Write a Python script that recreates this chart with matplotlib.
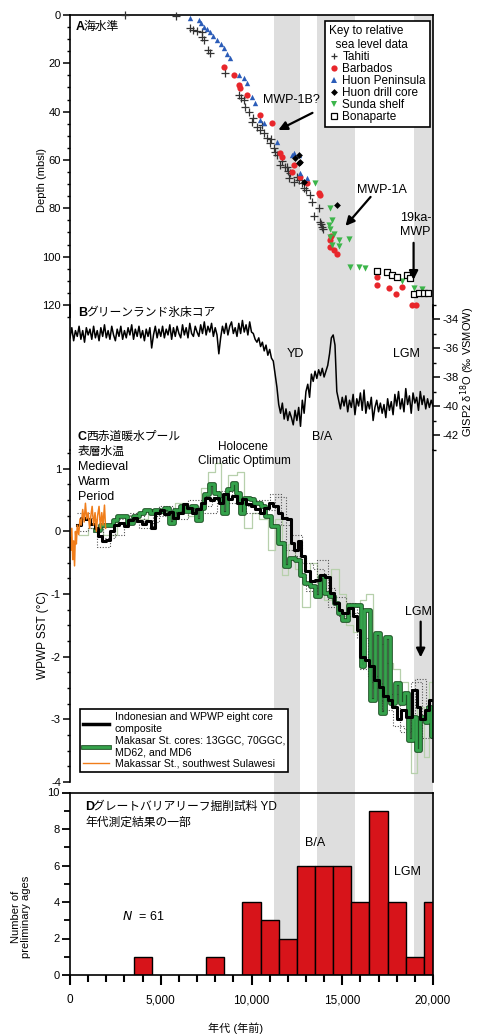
import numpy as np
import matplotlib
matplotlib.use('Agg')
import matplotlib.pyplot as plt
from matplotlib.lines import Line2D
from matplotlib.ticker import MultipleLocator, FuncFormatter
import matplotlib.patheffects as pe

plt.rcParams['font.family'] = ['Liberation Sans', 'Noto Sans CJK JP', 'DejaVu Sans']
plt.rcParams['axes.unicode_minus'] = False

# ---------------- DATA ----------------
# Shaded periods (ka): YD, B/A, LGM
band_start = [11.22, 13.6, 18.95]
band_end = [12.69, 15.7, 20.0]

# Panel A: relative sea level (age ka, depth m)
tahiti_age = [3.04, 5.85, 6.62, 6.80, 6.99, 7.27, 7.27, 7.36, 7.63, 7.73, 8.55, 9.29, 9.40, 9.57, 9.66,
              9.84, 10.03, 10.10, 10.30, 10.49, 10.60, 10.67, 10.85, 11.04, 11.10, 11.22, 11.30, 11.40,
              11.59, 11.70, 11.87, 11.96, 12.00, 12.05, 12.14, 12.32, 12.51, 12.60, 12.79, 12.88, 13.00,
              13.25, 13.34, 13.43, 13.70, 13.80, 13.85, 13.89, 13.94]
tahiti_depth = [0.0, 0.4, 5.5, 6.2, 6.5, 6.9, 9.0, 10.3, 14.5, 15.9, 24.1, 33.1, 34.5, 35.2, 37.9,
                40.0, 44.1, 42.5, 46.2, 47.6, 45.5, 49.0, 51.0, 53.1, 51.5, 55.2, 56.5, 57.9,
                62.1, 60.5, 62.8, 62.8, 64.5, 67.6, 65.5, 69.0, 66.9, 68.5, 69.6, 71.7, 72.5,
                74.5, 77.2, 83.4, 80.0, 85.5, 86.5, 87.6, 88.5]
barbados_age = [8.46, 9.01, 9.29, 9.38, 9.75, 10.49, 11.13, 11.59, 11.68, 12.23, 12.32, 12.69, 13.06,
                13.70, 13.80, 14.31, 14.35, 14.40, 14.53, 14.72, 16.93, 16.93, 17.57, 17.94, 18.30,
                18.86, 19.04]
barbados_depth = [21.4, 24.8, 29.0, 30.3, 33.1, 41.4, 44.8, 57.2, 58.6, 64.8, 62.1, 66.9, 69.6,
                  73.8, 74.5, 93.1, 95.9, 91.5, 97.2, 99.0, 108.3, 111.7, 113.1, 115.4, 112.4,
                  120.0, 120.0]
huon_age = [6.62, 7.08, 7.20, 7.36, 7.55, 7.73, 7.90, 8.09, 8.30, 8.46, 8.65, 8.83, 9.29, 9.57, 9.75,
            10.03, 10.21, 10.49, 10.67, 11.40, 12.23, 12.32, 12.60, 12.69, 13.06]
huon_depth = [1.1, 2.1, 3.5, 4.8, 6.0, 6.9, 8.5, 10.3, 12.0, 13.8, 16.0, 17.9, 24.8, 26.2, 28.3,
              33.8, 36.5, 43.4, 44.8, 52.4, 57.9, 57.2, 57.9, 65.5, 67.6]
huondrill_age = [12.42, 12.60, 12.69, 12.60, 12.88, 14.72]
huondrill_depth = [59.3, 57.9, 60.7, 61.4, 69.0, 78.6]
sunda_age = [13.52, 14.35, 14.44, 14.26, 14.30, 14.55, 14.35, 14.81, 15.36, 14.44, 14.81, 15.45, 15.91,
             16.28, 18.30, 18.95, 19.41]
sunda_depth = [69.6, 80.0, 84.8, 86.9, 88.5, 90.5, 91.7, 93.1, 92.8, 95.2, 95.6, 104.4, 104.4,
               104.8, 110.3, 113.1, 113.4]
bonaparte_age = [16.93, 17.48, 17.75, 17.99, 18.58, 18.76, 18.95, 19.22, 19.50, 19.72]
bonaparte_depth = [105.9, 106.2, 107.6, 108.5, 107.6, 108.9, 115.4, 115.2, 115.2, 115.2]

# Panel B: GISP2 d18O, 100-yr samples from 0 to 20 ka
gisp_age = np.arange(0, 20.001, 0.1)
gisp_d18o = [
    -35.3, -34.6, -35.5, -34.8, -35.2, -34.5, -35.4, -34.8, -35.6, -34.6, -35.1,
    -34.7, -35.4, -34.5, -35.3, -34.8, -35.5, -34.6, -35.2, -34.4, -35.3,
    -34.8, -35.4, -34.5, -35.1, -35.5, -34.7, -35.2, -34.5, -35.4, -34.8,
    -35.3, -34.6, -35.1, -34.4, -35.4, -34.7, -35.2, -34.5, -35.3, -34.8,
    -35.5, -34.7, -35.2, -34.6, -36.0, -35.1, -34.5, -35.3, -34.7, -35.2,
    -34.5, -35.3, -34.7, -35.1, -34.4, -35.4, -34.6, -35.2, -34.5, -35.0,
    -35.3, -34.4, -35.1, -34.6, -35.3, -34.3, -35.0, -35.2, -34.5, -34.9,
    -35.2, -34.4, -35.0, -34.2, -35.1, -34.5, -34.9, -34.3, -35.2, -34.6,
    -35.1, -36.4, -35.3, -34.5, -35.0, -34.3, -35.1, -34.5, -34.2, -35.0,
    -34.6, -35.2, -34.3, -35.0, -34.1, -34.9, -34.4, -35.1, -34.2, -34.9,
    -35.0, -35.4, -35.6, -35.3, -35.9, -35.6, -36.2, -35.8, -36.5, -36.1,
    -36.7, -36.9, -37.8, -38.7, -39.9, -40.5, -39.8, -40.9, -40.2, -41.0,
    -40.4, -40.8, -41.3, -40.3, -41.0, -40.1, -41.4, -39.6, -40.5, -39.0,
    -38.5, -39.4, -37.8, -38.3, -37.6, -38.1, -37.5, -37.9, -37.4, -38.0,
    -37.6, -37.2, -36.4, -35.3, -35.1, -35.8, -39.0, -39.6, -40.2, -39.4,
    -40.0, -39.3, -40.4, -39.6, -40.1, -39.2, -40.6, -39.5, -40.0, -39.1,
    -40.3, -38.9, -40.5, -39.7, -40.2, -39.4, -41.0, -40.1, -39.6, -40.4,
    -39.8, -40.5, -39.9, -40.8, -39.5, -40.3, -39.7, -40.6, -39.2, -40.0,
    -39.0, -40.2, -39.5, -40.4, -38.8, -39.9, -39.3, -40.5, -39.1, -39.8,
    -39.4, -40.3, -39.0, -39.9, -39.3, -40.2, -39.5, -40.1, -39.6, -40.0]

# Panel C: WPWP SST anomalies, step series (start ka, value degC)
comp_start = [0.40, 0.60, 0.85, 1.10, 1.35, 1.55, 1.75, 2.00, 2.20, 2.45, 2.70, 2.95, 3.20, 3.45, 3.70,
              3.95, 4.20, 4.45, 4.70, 4.95, 5.20, 5.45, 5.70, 5.95, 6.20, 6.45, 6.70, 6.95, 7.20, 7.45,
              7.70, 7.95, 8.20, 8.45, 8.70, 8.95, 9.20, 9.45, 9.70, 9.95, 10.20, 10.45, 10.70, 10.95,
              11.20, 11.45, 11.70, 11.95, 12.15, 12.35, 12.55, 12.75, 12.95, 13.20, 13.50, 13.75,
              14.05, 14.30, 14.55, 14.80, 15.00, 15.30, 15.60, 15.80, 16.00, 16.25, 16.50, 16.75,
              17.00, 17.25, 17.50, 17.75, 18.00, 18.25, 18.50, 18.85, 19.10, 19.30, 19.55, 19.80]
comp_sst = [0.10, 0.22, 0.20, 0.12, 0.05, -0.07, -0.15, -0.13, 0.00, 0.11, 0.14, 0.08, 0.19, 0.22, 0.16,
            0.12, 0.17, 0.06, 0.30, 0.35, 0.28, 0.31, 0.22, 0.30, 0.43, 0.38, 0.30, 0.36, 0.45, 0.54,
            0.50, 0.54, 0.46, 0.59, 0.51, 0.56, 0.46, 0.51, 0.44, 0.40, 0.36, 0.30, 0.38, 0.46,
            0.40, 0.30, 0.22, 0.20, -0.18, -0.29, -0.16, -0.39, -0.63, -0.79, -0.78, -0.69,
            -0.72, -0.98, -1.14, -1.25, -1.30, -1.22, -1.35, -1.57, -2.00, -2.05, -2.15, -2.37,
            -2.48, -2.63, -2.69, -2.80, -3.00, -2.85, -2.96, -2.53, -2.80, -3.00, -2.85, -2.69]
mak_start = [1.35, 1.65, 2.00, 2.35, 2.60, 2.90, 3.15, 3.45, 3.80, 4.10, 4.40, 4.65, 4.95, 5.20, 5.45,
             5.75, 6.05, 6.35, 6.65, 6.95, 7.20, 7.40, 7.65, 7.95, 8.20, 8.40, 8.65, 8.95, 9.15, 9.35,
             9.60, 9.90, 10.15, 10.50, 10.75, 11.05, 11.45, 11.80, 12.05, 12.40, 12.65, 12.90, 13.25,
             13.50, 13.80, 14.00, 14.25, 14.55, 14.75, 15.00, 15.30, 16.05, 16.20, 16.55, 16.80,
             17.10, 17.35, 17.65, 17.90, 18.20, 18.40, 18.65, 18.90, 19.05, 19.30, 19.55, 19.70, 19.90]
mak_sst = [0.03, 0.11, 0.10, 0.19, 0.24, 0.25, 0.14, 0.24, 0.30, 0.35, 0.30, 0.35, 0.33, 0.38, 0.14,
           0.35, 0.41, 0.33, 0.41, 0.19, 0.37, 0.59, 0.75, 0.62, 0.51, 0.30, 0.67, 0.77, 0.62, 0.30,
           0.54, 0.51, 0.45, 0.40, 0.24, 0.08, -0.18, -0.55, -0.42, -0.45, -0.69, -0.82, -0.87,
           -1.03, -0.71, -0.98, -1.03, -1.14, -1.30, -1.41, -1.17, -2.15, -1.25, -2.69, -1.62,
           -2.90, -1.68, -2.74, -2.42, -2.74, -2.58, -3.33, -2.96, -3.49, -2.96, -3.05, -2.80, -3.27]
core_start = [0.5, 1.0, 1.8, 2.6, 3.5, 4.3, 5.0, 5.8, 6.5, 7.2, 7.6, 8.0, 8.3, 8.7, 9.2, 9.6, 10.0,
              10.4, 10.9, 11.3, 11.7, 12.0, 12.4, 12.8, 13.2, 13.6, 14.0, 14.4, 14.8, 15.2, 15.6,
              16.0, 16.3, 16.7, 17.0, 17.4, 17.8, 18.2, 18.6, 18.8, 19.1, 19.5, 19.8]
core_sst = [-0.05, 0.05, -0.05, 0.25, 0.20, 0.35, 0.30, 0.45, 0.25, 0.70, 0.95, 1.10, 0.60, 0.90, 0.95,
            0.05, 0.30, 0.20, -0.30, 0.20, -0.70, -0.20, -0.60, -1.20, -0.50, -0.90, -1.10, -0.60,
            -1.00, -1.50, -1.60, -1.10, -1.00, -2.50, -1.80, -2.10, -2.20, -2.40, -3.00, -3.85,
            -2.80, -3.60, -2.40]
dot1_start = [0.4, 1.0, 1.5, 2.2, 3.0, 3.8, 4.6, 5.4, 6.2, 7.0, 7.8, 8.6, 9.4, 10.2, 11.0, 11.6, 12.2,
              12.8, 13.4, 14.0, 14.6, 15.2, 15.8, 16.4, 17.0, 17.6, 18.2, 18.8, 19.4]
dot1_sst = [0.0, 0.05, -0.25, -0.05, 0.15, 0.05, 0.25, 0.30, 0.35, 0.40, 0.55, 0.45, 0.40, 0.50, 0.60,
            0.10, -0.05, -0.50, -0.60, -0.90, -1.05, -1.15, -1.70, -2.30, -2.70, -2.60, -3.20, -2.40,
            -3.30]
dot2_start = [0.4, 1.2, 1.8, 2.5, 3.3, 4.1, 4.9, 5.7, 6.5, 7.3, 8.1, 8.9, 9.7, 10.5, 11.3, 11.9, 12.4,
              13.0, 13.6, 14.2, 14.8, 15.4, 16.0, 16.6, 17.2, 17.8, 18.4, 19.0, 19.6]
dot2_sst = [0.30, 0.20, -0.10, 0.20, 0.30, 0.15, 0.40, 0.20, 0.50, 0.30, 0.65, 0.55, 0.30, 0.35, 0.55,
            -0.30, -0.40, -0.95, -0.45, -1.20, -1.35, -1.30, -2.20, -2.40, -2.85, -3.10, -3.15,
            -2.35, -2.90]
sula_age = [0.00, 0.05, 0.10, 0.15, 0.20, 0.25, 0.30, 0.35, 0.40, 0.48, 0.55, 0.62, 0.70, 0.78, 0.85,
            0.92, 1.00, 1.08, 1.15, 1.22, 1.30, 1.38, 1.45, 1.52, 1.60, 1.68, 1.75, 1.82, 1.90, 1.96]
sula_sst = [-0.10, -0.30, 0.05, -0.45, -0.15, -0.55, 0.00, -0.20, 0.10, -0.05, 0.20, 0.10, 0.35, 0.15,
            0.45, 0.20, 0.30, 0.05, 0.25, 0.40, 0.10, 0.30, 0.00, 0.25, 0.40, 0.05, 0.30, 0.10, 0.42,
            0.05]

# Panel D: Great Barrier Reef preliminary ages histogram (bin centre ka, count)
gbr_age = [4, 8, 10, 11, 12, 13, 14, 15, 16, 17, 18, 19, 20]
gbr_count = [1, 1, 4, 3, 2, 6, 6, 6, 4, 9, 4, 1, 4]

# ---------------- FIGURE ----------------
W, H = 479, 1034
fig = plt.figure(figsize=(W / 100, H / 100), dpi=100)
XL, XR = 70, 433


def box(px0, py0, px1, py1):
    return [px0 / W, 1 - py1 / H, (px1 - px0) / W, (py1 - py0) / H]


def ftext(px, py, s, **kw):
    kw.setdefault('ha', 'left')
    kw.setdefault('va', 'center')
    return fig.text(px / W, 1 - py / H, s, **kw)


def steps(start, vals, end=20.0):
    x = np.array(list(start) + [end]) * 1000
    y = np.array(list(vals) + [vals[-1]])
    return x, y


SPW = 1.2

# background bands
axbg = fig.add_axes(box(XL, 15, XR, 975), zorder=0)
axbg.set_xlim(0, 20000)
axbg.set_ylim(0, 1)
axbg.axis('off')
for a0, a1 in zip(band_start, band_end):
    axbg.axvspan(a0 * 1000, a1 * 1000, color='#dedede', lw=0)


def style(ax):
    ax.set_facecolor('none')
    ax.set_xlim(0, 20000)
    for s in ax.spines.values():
        s.set_linewidth(SPW)
    ax.tick_params(which='major', direction='out', length=5, width=1.1, labelsize=8, pad=1.5)
    ax.tick_params(which='minor', direction='out', length=2.5, width=1.0)


# ---- Panel A
axA = fig.add_axes(box(XL, 15, XR, 317), zorder=2)
style(axA)
axA.set_ylim(125, 0)
axA.spines['bottom'].set_visible(False)
axA.set_xticks([])
axA.yaxis.set_major_locator(MultipleLocator(20))
axA.yaxis.set_minor_locator(MultipleLocator(5))
kwm = dict(clip_on=False, zorder=3)
axA.scatter(np.array(tahiti_age) * 1000, tahiti_depth, marker='+', s=26, c='#333333', lw=0.9, **kwm)
axA.scatter(np.array(barbados_age) * 1000, barbados_depth, marker='o', s=20, c='#e8262b', lw=0, **kwm)
axA.scatter(np.array(huon_age) * 1000, huon_depth, marker='^', s=15, c='#2b5cb8', lw=0, **kwm)
axA.scatter(np.array(huondrill_age) * 1000, huondrill_depth, marker='D', s=12, c='black', lw=0, **kwm)
axA.scatter(np.array(sunda_age) * 1000, sunda_depth, marker='v', s=20, c='#3cb54a', lw=0, **kwm)
axA.scatter(np.array(bonaparte_age) * 1000, bonaparte_depth, marker='s', s=20, facecolors='white',
            edgecolors='black', lw=0.9, **kwm)

hA = [Line2D([], [], ls='', marker='+', color='#333333', ms=5, mew=0.9),
      Line2D([], [], ls='', marker='o', color='#e8262b', ms=4.5, mew=0),
      Line2D([], [], ls='', marker='^', color='#2b5cb8', ms=4, mew=0),
      Line2D([], [], ls='', marker='D', color='black', ms=3.5, mew=0),
      Line2D([], [], ls='', marker='v', color='#3cb54a', ms=4.5, mew=0),
      Line2D([], [], ls='', marker='s', mfc='white', mec='black', ms=4.5, mew=0.9)]
lA = axA.legend(hA, ['Tahiti', 'Barbados', 'Huon Peninsula', 'Huon drill core', 'Sunda shelf', 'Bonaparte'],
                title='Key to relative\n  sea level data', loc='upper right',
                bbox_to_anchor=((430 - XL) / (XR - XL), 1 - 6 / 302), borderaxespad=0, fontsize=8.5,
                title_fontsize=8.5, frameon=True, fancybox=False, edgecolor='black', framealpha=1,
                handlelength=0.7, handletextpad=0.4, labelspacing=0.0, borderpad=0.35,
                alignment='left')
lA.get_frame().set_linewidth(1.2)

arr = dict(arrowstyle='-|>', color='black', lw=1.6, mutation_scale=13, shrinkA=0, shrinkB=0)
axA.text(12200, 35.2, 'MWP-1B?', ha='center', va='center', fontsize=9)
axA.annotate('', xy=(11480, 47.6), xytext=(13360, 40.5), arrowprops=arr)
axA.text(17160, 72.4, 'MWP-1A', ha='center', va='center', fontsize=9)
axA.annotate('', xy=(15180, 87.3), xytext=(16560, 75.3), arrowprops=arr)
axA.text(19040, 86.9, '19ka-\nMWP', ha='center', va='center', fontsize=9, linespacing=1.25)
axA.annotate('', xy=(18930, 109.6), xytext=(18930, 94.3), arrowprops=arr)

# ---- Panel B
axB = fig.add_axes(box(XL, 304.5, XR, 449.5), zorder=2)
style(axB)
axB.set_ylim(-43, -33)
axB.spines['top'].set_visible(False)
axB.spines['bottom'].set_visible(False)
axB.set_xticks([])
axB.yaxis.tick_right()
axB.yaxis.set_major_locator(MultipleLocator(2))
axB.yaxis.set_minor_locator(MultipleLocator(1))
axB.plot(gisp_age * 1000, gisp_d18o, color='black', lw=1.1)
axB.text(12420, -36.41, 'YD', ha='center', va='center', fontsize=9)
axB.text(13900, -42.14, 'B/A', ha='center', va='center', fontsize=9)
axB.text(18540, -36.41, 'LGM', ha='center', va='center', fontsize=9)

# ---- Panel C
axC = fig.add_axes(box(XL, 450, XR, 782), zorder=2)
style(axC)
axC.set_ylim(-4, 1.3)
axC.spines['top'].set_visible(False)
axC.spines['bottom'].set_visible(False)
axC.set_xticks([])
axC.yaxis.set_major_locator(MultipleLocator(1))
axC.yaxis.set_minor_locator(MultipleLocator(0.25))
axC.yaxis.set_major_formatter(FuncFormatter(lambda v, p: '%d' % round(v)))

x, y = steps(core_start, core_sst)
axC.step(x, y, where='post', color='#b7d0ac', lw=0.9)
x, y = steps(dot1_start, dot1_sst)
axC.step(x, y, where='post', color='#555555', lw=0.8, ls=(0, (1, 1.5)))
x, y = steps(dot2_start, dot2_sst)
axC.step(x, y, where='post', color='#555555', lw=0.8, ls=(0, (1, 1.5)))
green_pe = [pe.Stroke(linewidth=3.4, foreground='#1c5224'), pe.Normal()]
x, y = steps(mak_start, mak_sst)
axC.step(x, y, where='post', color='#35a34c', lw=2.0, path_effects=green_pe)
x, y = steps(comp_start, comp_sst)
axC.step(x, y, where='post', color='black', lw=2.2)
axC.plot(np.array(sula_age) * 1000, sula_sst, color='#f07d1a', lw=1.1)

axC.text(19200, -1.29, 'LGM', ha='center', va='center', fontsize=9)
axC.annotate('', xy=(19320, -2.01), xytext=(19320, -1.44), arrowprops=arr)

hC = [Line2D([], [], color='black', lw=2.5),
      Line2D([], [], color='#35a34c', lw=2.0, path_effects=green_pe),
      Line2D([], [], color='#f07d1a', lw=1.0)]
lC = axC.legend(hC, ['Indonesian and WPWP eight core\ncomposite',
                     'Makasar St. cores: 13GGC, 70GGC,\nMD62, and MD6',
                     'Makassar St., southwest Sulawesi'],
                loc='lower left', bbox_to_anchor=(10 / 363, 10 / 332), borderaxespad=0, fontsize=7.6,
                frameon=True, fancybox=False, edgecolor='black', framealpha=1, handlelength=2.4,
                handletextpad=0.6, labelspacing=0.15, borderpad=0.3)
lC.get_frame().set_linewidth(1.2)

# ---- Panel D
axD = fig.add_axes(box(XL, 792.5, XR, 975), zorder=2)
style(axD)
axD.set_ylim(0, 10)
axD.bar(np.array(gbr_age) * 1000, gbr_count, width=1000, color='#d7141a', edgecolor='black', lw=1.0)
axD.xaxis.set_major_locator(MultipleLocator(5000))
axD.xaxis.set_minor_locator(MultipleLocator(1000))
axD.yaxis.set_major_locator(MultipleLocator(2))
axD.yaxis.set_minor_locator(MultipleLocator(1))
axD.xaxis.set_major_formatter(FuncFormatter(lambda v, p: '{:,.0f}'.format(v)))
axD.tick_params(axis='x', which='major', length=7, width=1.5, labelsize=8.5, pad=7)
axD.tick_params(axis='x', which='minor', length=5, width=1.5)
axD.tick_params(axis='y', which='major', length=6, width=1.3)
axD.tick_params(axis='y', which='minor', length=4, width=1.3)
axD.text(13520, 7.23, 'B/A', ha='center', va='center', fontsize=9)
axD.text(18600, 5.64, 'LGM', ha='center', va='center', fontsize=9)
axD.text(4030, 3.18, '$N$  = 61', ha='center', va='center', fontsize=9)

# ---- Panel labels and axis labels
ftext(76, 27, 'A', fontsize=9, fontweight='bold')
ftext(84, 27, '海水準', fontsize=8.5)
ftext(78, 313, 'B', fontsize=9, fontweight='bold')
ftext(86, 313, 'グリーンランド氷床コア', fontsize=8.5)
ftext(78, 437, 'C', fontsize=9, fontweight='bold')
ftext(86, 437, '西赤道暖水プール', fontsize=8.5)
ftext(78, 452, '表層水温', fontsize=8.5)
ftext(78, 467, 'Medieval', fontsize=9)
ftext(78, 482, 'Warm', fontsize=9)
ftext(78, 497, 'Period', fontsize=9)
ftext(243, 447, 'Holocene', fontsize=8.5, ha='center')
ftext(244, 461, 'Climatic Optimum', fontsize=8.5, ha='center')
ftext(85, 807, 'D', fontsize=9, fontweight='bold')
ftext(93, 807, 'グレートバリアリーフ掘削試料 YD', fontsize=8.5)
ftext(85, 823, '年代測定結果の一部', fontsize=8.5)

ftext(42, 180, 'Depth (mbsl)', fontsize=8, rotation=90, ha='center')
ftext(43, 635, 'WPWP SST (°C)', fontsize=8.5, rotation=90, ha='center')
ftext(21, 917, 'Number of\npreliminary ages', fontsize=8, rotation=90, ha='center', linespacing=1.1)
ftext(468, 372, 'GISP2 δ$^{18}$O (‰ VSMOW)', fontsize=8, rotation=90, ha='center')
ftext(236, 1028, '年代 (年前)', fontsize=8, ha='center')

fig.savefig('out.png', dpi=100)
